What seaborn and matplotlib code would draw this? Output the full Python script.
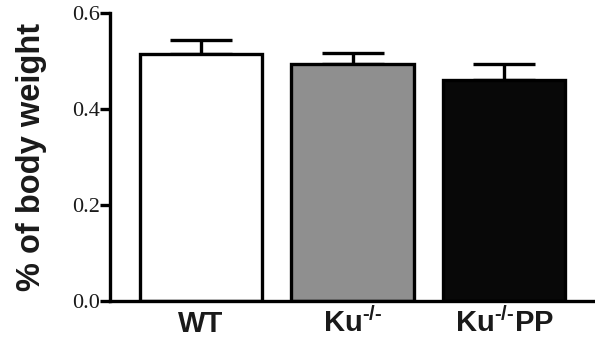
import matplotlib
matplotlib.use('Agg')
import matplotlib.pyplot as plt
import numpy as np
import pandas as pd
import seaborn as sns

groups = ['WT', r'Ku$^{\text{-/-}}$', r'Ku$^{\text{-/-}}$PP']
means = [0.514, 0.493, 0.460]
sems = [0.030, 0.024, 0.033]
bar_colors = ['white', '#8f8f8f', '#080808']

sns.set_style('ticks')
plt.rcParams['mathtext.fontset'] = 'custom'
plt.rcParams['mathtext.rm'] = 'Liberation Sans:bold'
plt.rcParams['mathtext.it'] = 'Liberation Sans:bold'
plt.rcParams['mathtext.bf'] = 'Liberation Sans:bold'

df = pd.DataFrame({'group': groups, 'value': means})

fig = plt.figure(figsize=(5.95, 3.39), dpi=100)
ax = fig.add_axes([0.185, 0.112, 0.815, 0.85])
sns.barplot(data=df, x='group', y='value', hue='group', palette=bar_colors,
            order=groups, hue_order=groups, errorbar=None, width=0.81,
            edgecolor='black', linewidth=2.4, legend=False, ax=ax, zorder=2)

pos = np.arange(len(groups))
ax.errorbar(pos, means, yerr=[np.zeros(len(sems)), sems], fmt='none',
            ecolor='black', elinewidth=2.4, capsize=22, capthick=2.4, zorder=1)

ax.set_xlim(-0.6, 2.6)
ax.set_ylim(0, 0.6)
ax.set_yticks([0.0, 0.2, 0.4, 0.6])
ax.set_yticklabels(['0.0', '0.2', '0.4', '0.6'], fontfamily='Liberation Serif',
                   fontsize=16, color='#1a1a1a')
ax.tick_params(axis='y', length=7, width=2.4, pad=0, color='black')
ax.tick_params(axis='x', length=0, pad=22)
for lab in ax.get_xticklabels():
    lab.set_fontfamily('Liberation Sans')
    lab.set_fontweight('bold')
    lab.set_fontsize(21)
    lab.set_color('#1a1a1a')
    lab.set_verticalalignment('baseline')
ax.set_xlabel('')
ax.set_ylabel('% of body weight', fontfamily='Liberation Sans', fontweight='bold',
              fontsize=23.5, color='#1a1a1a', labelpad=18)
for side in ['top', 'right']:
    ax.spines[side].set_visible(False)
for side in ['left', 'bottom']:
    ax.spines[side].set_linewidth(2.4)
    ax.spines[side].set_color('black')

fig.savefig('out.png', dpi=100)
